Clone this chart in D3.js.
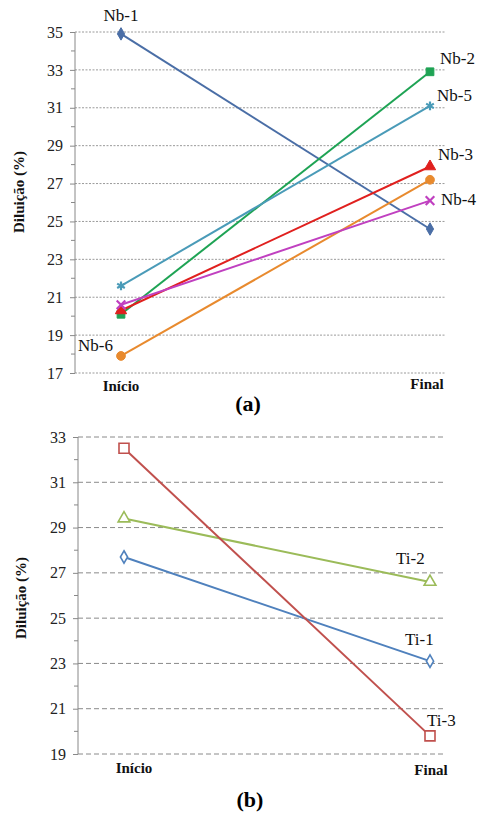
<!DOCTYPE html>
<html><head><meta charset="utf-8">
<script src="https://cdn.jsdelivr.net/npm/d3@7/dist/d3.min.js"></script>
<style>body{margin:0;background:#fff}svg{display:block}svg text{font-family:"Liberation Serif","DejaVu Serif","Times New Roman",serif !important}</style>
</head><body>
<svg id="c" width="486" height="815"></svg>
<script>
const categories = ["Início", "Final"];
const seriesA = [
  {name:"Nb-1", values:[34.9, 24.6]},
  {name:"Nb-2", values:[20.1, 32.9]},
  {name:"Nb-5", values:[21.6, 31.1]},
  {name:"Nb-3", values:[20.3, 27.9]},
  {name:"Nb-6", values:[17.9, 27.2]},
  {name:"Nb-4", values:[20.6, 26.1]}
];
const seriesB = [
  {name:"Ti-1", values:[27.7, 23.1]},
  {name:"Ti-2", values:[29.4, 26.6]},
  {name:"Ti-3", values:[32.5, 19.8]}
];
const ticksA = [17,19,21,23,25,27,29,31,33,35];
const ticksB = [19,21,23,25,27,29,31,33];
const yTitle = "Diluição (%)";

const styleA = {
  "Nb-1":{color:"#4a6ea6", sym:d3.symbolDiamond, size:45, fill:true, lx:121, ly:17, anchor:"middle"},
  "Nb-2":{color:"#1ea354", sym:d3.symbolSquare, size:60, fill:true, lx:440, ly:60, anchor:"start"},
  "Nb-5":{color:"#4a9bb8", sym:d3.symbolAsterisk, size:55, fill:false, lx:437, ly:97, anchor:"start"},
  "Nb-3":{color:"#e0201e", sym:d3.symbolTriangle, size:55, fill:true, lx:438, ly:156, anchor:"start"},
  "Nb-6":{color:"#e88a2e", sym:d3.symbolCircle, size:60, fill:true, lx:113, ly:347, anchor:"end"},
  "Nb-4":{color:"#c040c0", sym:d3.symbolX, size:50, fill:false, lx:441, ly:201, anchor:"start"}
};
const styleB = {
  "Ti-1":{color:"#4f81bd", sym:d3.symbolDiamond, size:45, lx:405, ly:641},
  "Ti-2":{color:"#9bbb59", sym:d3.symbolTriangle, size:60, lx:396, ly:560},
  "Ti-3":{color:"#c0504d", sym:d3.symbolSquare, size:100, lx:427, ly:722}
};

const svg = d3.select("#c");

function panel(cfg){
  const g = svg.append("g");
  const y = d3.scaleLinear().domain(cfg.domain).range(cfg.yRange);
  const x = d3.scalePoint().domain(categories).range(cfg.xRange);
  g.selectAll("line.grid").data(cfg.ticks).join("line")
    .attr("x1", cfg.axisX).attr("x2", cfg.gridEnd)
    .attr("y1", d=>y(d)).attr("y2", d=>y(d))
    .attr("stroke", cfg.gridColor).attr("stroke-width",1).attr("stroke-dasharray", cfg.dash);
  const ax = d3.axisLeft(y).tickValues(cfg.ticks).tickSize(5).tickPadding(7).tickFormat(d3.format("d"));
  const axg = g.append("g").attr("transform",`translate(${cfg.axisX},0)`).call(ax);
  axg.attr("font-family", null);
  axg.select(".domain").attr("stroke","#888").attr("d",`M0,${cfg.yRange[0]}V${cfg.yRange[1]}`);
  axg.selectAll(".tick line").attr("stroke","#888");
  axg.selectAll(".tick text").attr("font-size",16).attr("fill","#222");
  const minor = d3.range(cfg.domain[0]+1, cfg.domain[1], 2);
  g.selectAll("line.minor").data(minor).join("line")
    .attr("x1", cfg.axisX-4).attr("x2", cfg.axisX)
    .attr("y1", d=>y(d)).attr("y2", d=>y(d)).attr("stroke","#888");
  g.append("text").attr("transform",`translate(${cfg.titleX},${cfg.titleY}) rotate(-90)`)
    .attr("text-anchor","middle").attr("font-weight","bold").attr("font-size",15).attr("fill","#111").text(yTitle);
  categories.forEach((c,i)=>{
    g.append("text").attr("x", cfg.catX[i]).attr("y", cfg.catY[i]).attr("text-anchor","middle")
      .attr("dominant-baseline","middle").attr("font-weight","bold").attr("font-size",15).attr("fill","#111").text(c);
  });
  g.append("text").attr("x", cfg.letterX).attr("y", cfg.letterY).attr("text-anchor","middle")
    .attr("dominant-baseline","middle").attr("font-weight","bold").attr("font-size",22).attr("fill","#000").text(cfg.letter);
  const line = d3.line().x((d,i)=>x(categories[i])).y(d=>y(d));
  cfg.series.forEach(s=>{
    const st = cfg.style[s.name];
    g.append("path").attr("d", line(s.values)).attr("fill","none").attr("stroke", st.color).attr("stroke-width",2);
    s.values.forEach((v,i)=>{
      g.append("path").attr("d", d3.symbol(st.sym, st.size)())
        .attr("transform",`translate(${x(categories[i])},${y(v)})`)
        .attr("fill", cfg.hollow ? "#fff" : (st.fill ? st.color : "none"))
        .attr("stroke", st.color).attr("stroke-width", cfg.hollow ? 1.6 : (st.fill?1:2.2));
    });
    g.append("text").attr("x", st.lx).attr("y", st.ly).attr("text-anchor", st.anchor||"start")
      .attr("dominant-baseline","middle").attr("font-size",17).attr("fill","#111").text(s.name);
  });
}

panel({domain:[17,35], yRange:[373,32], xRange:[121,430], axisX:75, gridEnd:445,
  ticks:ticksA, gridColor:"#9a9a9a", dash:"2,1.5", series:seriesA, style:styleA, hollow:false,
  titleX:24, titleY:192, catX:[121,427], catY:[388,386], letter:"(a)", letterX:248, letterY:406});

panel({domain:[19,33], yRange:[754,437], xRange:[124,430], axisX:78, gridEnd:445,
  ticks:ticksB, gridColor:"#8a8a8a", dash:"5,3", series:seriesB, style:styleB, hollow:true,
  titleX:26, titleY:598, catX:[134,431], catY:[770,772], letter:"(b)", letterX:250, letterY:802});
</script>
</body></html>
